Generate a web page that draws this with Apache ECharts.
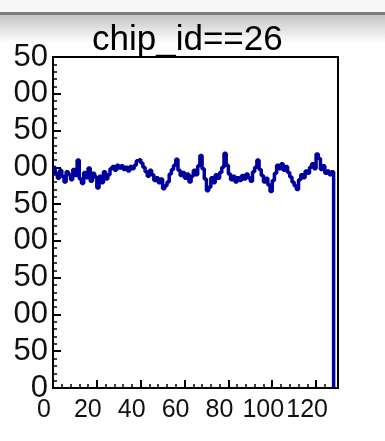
<!DOCTYPE html>
<html>
<head>
<meta charset="utf-8">
<script src="https://cdn.jsdelivr.net/npm/echarts@6/dist/echarts.min.js"></script>
<style>
    html, body { margin: 0; padding: 0; background: #fff; }
    #main { width: 385px; height: 441px; filter: blur(0.6px); }
</style>
</head>
<body>
<div id="main"></div>
<script>
// chip_id==26 histogram, 128 channels
var binValues = [
    300, 292, 285, 296, 288, 280, 294, 290, 283, 297,
    289, 310, 284, 278, 293, 286, 299, 281, 292, 287,
    272, 288, 279, 294, 284, 290, 298, 301, 296, 303,
    299, 302, 297, 300, 295, 301, 298, 303, 309, 311,
    306, 300, 294, 288, 296, 290, 282, 286, 279, 284,
    271, 275, 280, 291, 297, 303, 311, 296, 289, 293,
    285, 291, 280, 288, 296, 290, 302, 316, 298, 284,
    268, 273, 286, 279, 290, 285, 293, 300, 319, 303,
    291, 283, 288, 280, 286, 282, 289, 284, 291, 286,
    281, 294, 300, 310, 297, 289, 280, 285, 276, 267,
    282, 292, 303, 298, 305, 296, 301, 293, 287, 280,
    275, 270, 283, 290, 286, 295, 292, 300, 305, 298,
    318, 312, 297, 302, 292, 295, 290, 294
];
var xTicks = [0, 20, 40, 60, 80, 100, 120];
var yTicks = [0, 50, 100, 150, 200, 250, 300, 350, 400, 450];

// step points at bin left edges, last edge drops to 0
var histData = [];
for (let i = 0; i < binValues.length; i++) {
    histData.push([i, binValues[i]]);
}
histData.push([binValues.length, 0]);

var myChart = echarts.init(document.getElementById('main'));

var font = 'Liberation Sans, Arial, sans-serif';

var option = {
    animation: false,
    backgroundColor: '#fff',
    graphic: [
        { type: 'rect', shape: { x: 0, y: 0, width: 385, height: 13 }, style: { fill: '#f6f6f6' }, silent: true },
        { type: 'rect', shape: { x: 0, y: 12, width: 385, height: 3 }, style: { fill: '#7d7d7d' }, silent: true },
        {
            type: 'rect', shape: { x: 0, y: 15, width: 385, height: 28 }, silent: true,
            style: {
                fill: new echarts.graphic.LinearGradient(0, 0, 0, 1, [
                    { offset: 0, color: '#c4c4c4' },
                    { offset: 1, color: '#ffffff' }
                ])
            }
        }
    ],
    title: {
        text: 'chip_id==26',
        left: 92,
        top: 23,
        padding: 0,
        textStyle: { fontFamily: font, fontSize: 35, fontWeight: 'normal', color: '#000' }
    },
    grid: {
        left: 53,
        top: 57,
        width: 285,
        height: 331,
        show: true,
        borderColor: '#000',
        borderWidth: 2,
        backgroundColor: 'transparent'
    },
    xAxis: {
        type: 'value',
        min: 0,
        max: 130,
        interval: 20,
        axisLine: { lineStyle: { color: '#000', width: 2 } },
        axisTick: { inside: true, length: 8, lineStyle: { color: '#000', width: 2 } },
        minorTick: { show: true, splitNumber: 5, length: 4, lineStyle: { color: '#000', width: 1.5 } },
        splitLine: { show: false },
        axisLabel: {
            margin: 10,
            padding: [0, 18, 0, 0],
            fontFamily: font,
            fontSize: 25,
            color: '#111',
            customValues: xTicks
        }
    },
    yAxis: {
        type: 'value',
        min: 0,
        max: 450,
        interval: 50,
        axisLine: { show: true, lineStyle: { color: '#000', width: 2 } },
        axisTick: { inside: true, length: 8, lineStyle: { color: '#000', width: 2 } },
        minorTick: { show: true, splitNumber: 5, length: 4, lineStyle: { color: '#000', width: 1.5 } },
        splitLine: { show: false },
        axisLabel: {
            margin: 5,
            fontFamily: font,
            fontSize: 31,
            color: '#111',
            customValues: yTicks,
            // left digit is cut off in the original pad
            formatter: function (v) {
                if (v === 0) return '0';
                return String(v % 100).padStart(2, '0');
            }
        }
    },
    series: [{
        type: 'line',
        step: 'end',
        data: histData,
        symbol: 'none',
        lineStyle: { color: '#00009c', width: 3.5 }
    }]
};

myChart.setOption(option);
</script>
</body>
</html>
